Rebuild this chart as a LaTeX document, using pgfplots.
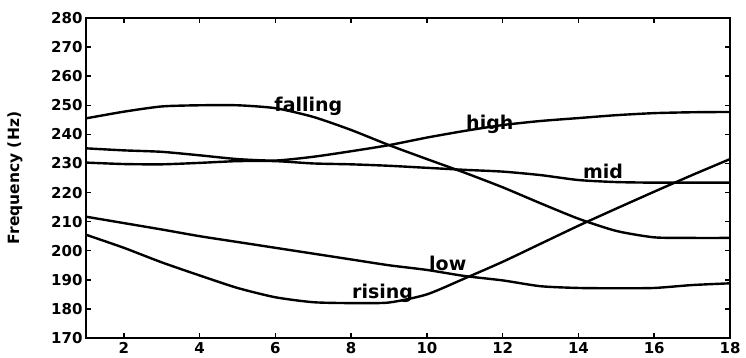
\documentclass[border=0pt]{standalone}
\usepackage{fontspec}
\setmainfont{DejaVu Sans}
\usepackage{pgfplots}
\pgfplotsset{compat=1.18}
\begin{document}
\begin{tikzpicture}
\useasboundingbox (-86pt,-19pt) rectangle (660pt,338pt);
\begin{axis}[
  at={(0pt,0pt)}, anchor=origin,
  scale only axis, width=644pt, height=320pt,
  xmin=1, xmax=18, ymin=170, ymax=280,
  xtick={2,4,...,18}, ytick={170,180,...,280},
  tick align=inside, major tick length=5pt,
  xtick pos=both, ytick pos=both,
  axis line style={line width=2pt},
  every tick/.style={black, line width=1.5pt},
  /pgf/number format/assume math mode=true,
  tick label style={font=\fontsize{15}{15}\bfseries\selectfont},
  xticklabel style={yshift=-1pt},
  ylabel={Frequency (Hz)},
  ylabel style={at={(axis description cs:-0.1102,0.5)}, anchor=center, font=\fontsize{15.5}{16}\bfseries\selectfont},
  clip=false,
  every axis plot post/.append style={black, line width=2.4pt, smooth, tension=0.4, mark=none},
]
% falling
\addplot coordinates {(1,245.5)(2,247.8)(3,249.6)(4,250)(5,250)(6,249)(7,246)(8,241.5)(9,236.3)(10,231.5)(11,226.8)(12,221.8)(13,216.3)(14,211)(15,206.8)(16,204.6)(17,204.4)(18,204.4)};
% high
\addplot coordinates {(1,235.2)(2,234.5)(3,234)(4,232.8)(5,231.5)(6,231)(7,232.3)(8,234.2)(9,236.3)(10,238.9)(11,241.2)(12,243.2)(13,244.6)(14,245.6)(15,246.6)(16,247.3)(17,247.6)(18,247.7)};
% mid
\addplot coordinates {(1,230.3)(2,229.8)(3,229.7)(4,230.2)(5,230.8)(6,230.8)(7,230)(8,229.7)(9,229.2)(10,228.5)(11,227.8)(12,227.2)(13,226)(14,224.3)(15,223.6)(16,223.4)(17,223.4)(18,223.4)};
% low
\addplot coordinates {(1,211.7)(2,209.5)(3,207.3)(4,205)(5,203)(6,201)(7,199)(8,197)(9,195)(10,193.4)(11,191.3)(12,189.8)(13,187.8)(14,187.2)(15,187.1)(16,187.2)(17,188.2)(18,188.8)};
% rising
\addplot coordinates {(1,205.5)(2,201)(3,196)(4,191.5)(5,187.2)(6,184)(7,182.3)(8,182)(9,182.2)(10,185)(11,190.5)(12,196.2)(13,202.4)(14,208.6)(15,214.5)(16,220.3)(17,226)(18,231.5)};
\node[font=\fontsize{19}{19}\bfseries\selectfont] at (axis cs:6.87,249.8) {falling};
\node[font=\fontsize{19}{19}\bfseries\selectfont] at (axis cs:11.66,243.6) {high};
\node[font=\fontsize{19}{19}\bfseries\selectfont] at (axis cs:14.65,227.1) {mid};
\node[font=\fontsize{19}{19}\bfseries\selectfont] at (axis cs:10.55,195.8) {low};
\node[font=\fontsize{19}{19}\bfseries\selectfont] at (axis cs:8.83,185.5) {rising};
\end{axis}
\end{tikzpicture}
\end{document}
